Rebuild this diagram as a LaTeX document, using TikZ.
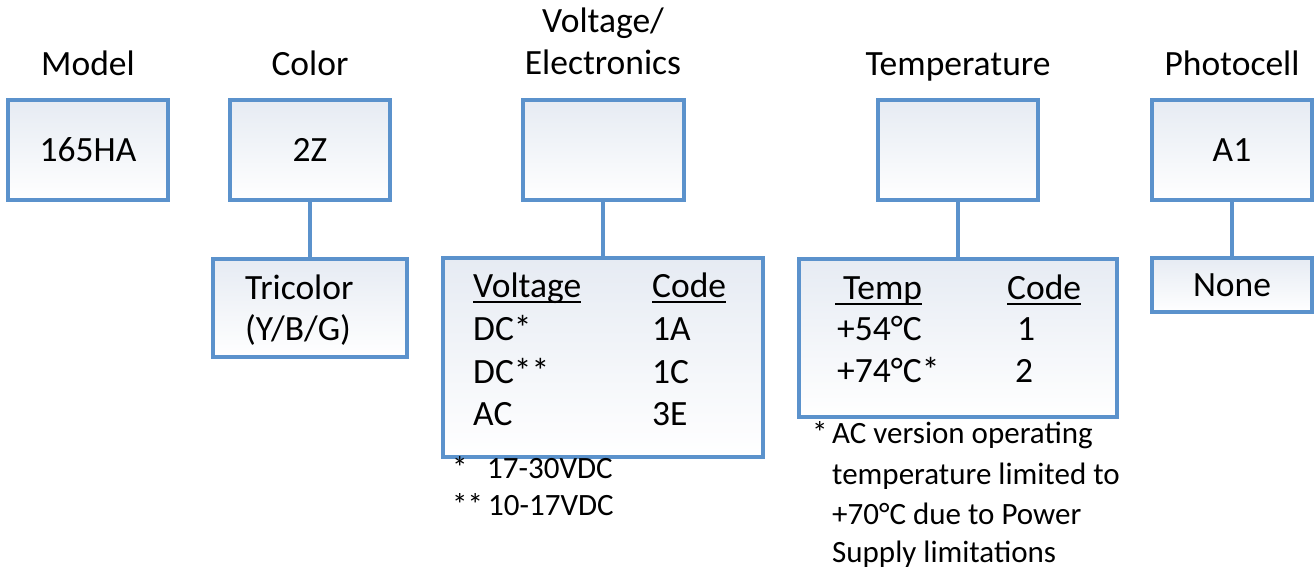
\documentclass[tikz,border=0pt]{standalone}
\usepackage{fontspec}
\setmainfont{Carlito}
\usepackage{tikz}
\definecolor{boxblue}{HTML}{5B92CC}
\definecolor{boxtop}{HTML}{E6EBF3}
\newcommand{\undl}[1]{\setbox0\hbox{#1}\rlap{\rule[-5pt]{\wd0}{2.4pt}}\box0}
\tikzset{
  codebox/.style={draw=boxblue, line width=4pt, top color=boxtop, bottom color=white, inner sep=0pt},
  txt/.style={anchor=base west, inner sep=0pt, font=\fontsize{35.5}{42}\selectfont},
  note/.style={anchor=base west, inner sep=0pt, font=\fontsize{31}{38}\selectfont},
  head/.style={anchor=base, inner sep=0pt, font=\fontsize{35.5}{42}\selectfont},
  link/.style={boxblue, line width=4pt}
}

\begin{document}
\begin{tikzpicture}[x=1pt, y=-1pt]
    \useasboundingbox (0,0) rectangle (1315,569);
    % headings
    \node[head] (hmodel) at (88,76) {Model};
    \node[head] (hcolor) at (310,76) {Color};
    \node[head] (hvolta) at (603,33) {Voltage/};
    \node[head] (hvoltb) at (603,75) {Electronics};
    \node[head] (htemp) at (958,76) {Temperature};
    \node[head] (hphoto) at (1232,76) {Photocell};
    % top boxes
    \node[codebox, minimum width=160pt, minimum height=100pt] (model) at (88,150) {};
    \node[codebox, minimum width=160pt, minimum height=100pt] (color) at (310,150) {};
    \node[codebox, minimum width=161pt, minimum height=100pt] (volt) at (603,150) {};
    \node[codebox, minimum width=160pt, minimum height=100pt] (temp) at (957.5,150) {};
    \node[codebox, minimum width=160pt, minimum height=100pt] (photo) at (1232,150) {};
    \node[head, anchor=center] (tmodel) at (model) {165HA};
    \node[head, anchor=center] (tcolor) at (color) {2Z};
    \node[head, anchor=center] (tphoto) at (photo) {A1};
    % option boxes
    \node[codebox, minimum width=194pt, minimum height=98pt] (tricol) at (310,308) {};
    \node[codebox, minimum width=320pt, minimum height=199pt] (volttab) at (603,357.5) {};
    \node[codebox, minimum width=318pt, minimum height=158pt] (temptab) at (957.5,338) {};
    \node[codebox, minimum width=160pt, minimum height=54pt] (none) at (1232,285) {};
    \node[head, anchor=center] (tnone) at (none) {None};
    % links
    \draw[link] (color.south) -- (tricol.north);
    \draw[link] (volt.south) -- (volttab.north);
    \draw[link] (temp.south) -- (temptab.north);
    \draw[link] (photo.south) -- (none.north);
    % color
    \node[txt] (tri) at (245,300) {Tricolor};
    \node[txt] (ybg) at (245,341) {(Y/B/G)};
    % voltage table
    \node[txt] (vhead) at (473,298) {\undl{Voltage}};
    \node[txt] (vcode) at (652,298) {\undl{Code}};
    \node[txt] (vdc) at (473,341) {DC*};
    \node[txt] (vdcc) at (473,383) {DC**};
    \node[txt] (vac) at (473,425) {AC};
    \node[txt] (cdc) at (652,341) {1A};
    \node[txt] (cdcc) at (652,383) {1C};
    \node[txt] (cac) at (652,425) {3E};
    \node[note] (fna) at (452,478) {*};
    \node[note] (fnatxt) at (487,478) {17-30VDC};
    \node[note] (fnb) at (452,515) {**};
    \node[note] (fnbtxt) at (488,515) {10-17VDC};
    % temperature table
    \node[txt] (thead) at (835,300) {\undl{\ Temp}};
    \node[txt] (tcode) at (1007,300) {\undl{Code}};
    \node[txt] (tlow) at (837,341) {+54°C};
    \node[txt] (thigh) at (837,382) {+74°C*};
    \node[txt] (clow) at (1017,341) {1};
    \node[txt] (chigh) at (1015,382) {2};
    \node[note] (fnt) at (812,443) {*};
    \node[note] (fnta) at (832,443) {AC version operating};
    \node[note] (fntb) at (832,484) {temperature limited to};
    \node[note] (fntc) at (832,524) {+70°C due to Power};
    \node[note] (fntd) at (832,562) {Supply limitations};
\end{tikzpicture}
\end{document}
